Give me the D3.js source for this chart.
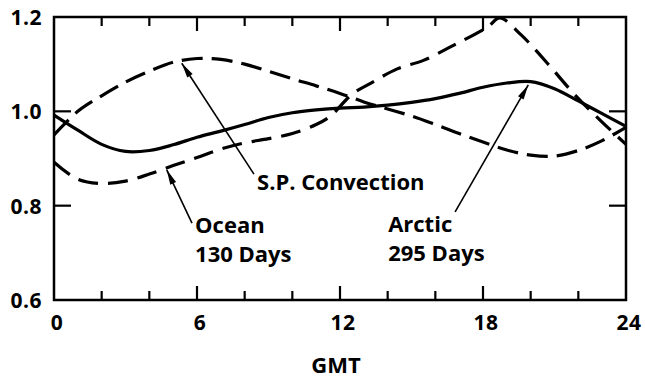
<html>
<head>
  <meta charset="utf-8" />
  <script src="https://cdnjs.cloudflare.com/ajax/libs/d3/7.8.5/d3.min.js"></script>
  <style>
    body { margin: 0; background: #fff; }
    text { font-family: "Open Sans", sans-serif; font-weight: 700; fill: #000; }
  </style>
</head>
<body>
  <svg></svg>
  <script>
    var hours       = [0,1,2,3,4,5,6,7,8,9,10,11,12,13,14,15,16,17,18,19,20,21,22,23,24]
    var arctic      = [0.992,0.96,0.93,0.915,0.917,0.929,0.945,0.958,0.972,0.987,0.997,1.003,1.007,1.009,1.013,1.019,1.027,1.038,1.051,1.06,1.063,1.048,1.022,0.995,0.968]
    var spConv      = [0.95,1.0,1.033,1.062,1.085,1.104,1.112,1.11,1.1,1.085,1.069,1.054,1.038,1.02,1.005,0.99,0.972,0.953,0.935,0.918,0.907,0.905,0.917,0.938,0.966]
    var oceanHours  = [0,1,2,3,4,5,6,7,8,9,10,11,11.6,12.5,13.3,14.4,15.5,16.8,18.2,18.7,19.6,20.7,21.8,22.9,24]
    var ocean       = [0.892,0.856,0.847,0.852,0.867,0.885,0.902,0.92,0.933,0.942,0.953,0.972,0.99,1.036,1.06,1.09,1.108,1.141,1.179,1.198,1.162,1.102,1.038,0.982,0.93]
    var xTicks      = [0,6,12,18,24]
    var xMinor      = [2,4,8,10,14,16,20,22]
    var yTicks      = [0.6,0.8,1.0,1.2]
    var yInner      = [0.8,1.0]

    var notes = [
      { lines: ["S.P. Convection"], tip: [5.36, 1.102], tail: [8.39, 0.867], at: [8.52, 0.833] },
      { lines: ["Ocean", "130 Days"], tip: [4.73, 0.876], tail: [5.79, 0.763], at: [5.92, 0.742] },
      { lines: ["Arctic", "295 Days"], tip: [19.9, 1.056], tail: [16.83, 0.787], at: [14.02, 0.744] }
    ]

    var svg = d3.select("svg").attr("width", 645).attr("height", 379)

    var x = d3.scaleLinear().domain([0, 24]).range([54, 626])
    var y = d3.scaleLinear().domain([0.6, 1.2]).range([300, 17])

    // frame
    svg.append("rect")
      .attr("x", x(0)).attr("y", y(1.2))
      .attr("width", x(24) - x(0)).attr("height", y(0.6) - y(1.2))
      .style("fill", "none").style("stroke", "#000").style("stroke-width", 2.5)

    // ticks, drawn inward on all sides
    var tickG = svg.append("g").style("stroke", "#000").style("stroke-width", 2.2)
    var xt = xMinor.map(d => ({ v: d, len: 9 })).concat([6, 12, 18].map(d => ({ v: d, len: 14 })))
    xt.forEach(t => {
      tickG.append("line").attr("x1", x(t.v)).attr("x2", x(t.v)).attr("y1", y(0.6)).attr("y2", y(0.6) - t.len)
      tickG.append("line").attr("x1", x(t.v)).attr("x2", x(t.v)).attr("y1", y(1.2)).attr("y2", y(1.2) + t.len)
    })
    yInner.forEach(v => {
      tickG.append("line").attr("x1", x(0)).attr("x2", x(0) + 17).attr("y1", y(v)).attr("y2", y(v))
      tickG.append("line").attr("x1", x(24)).attr("x2", x(24) - 17).attr("y1", y(v)).attr("y2", y(v))
    })

    // tick labels
    svg.selectAll("text.ylab").data(yTicks).enter().append("text")
      .attr("class", "ylab")
      .attr("x", 42).attr("y", d => y(d) + 8)
      .attr("text-anchor", "end")
      .style("font-size", "21px").style("letter-spacing", "0.5px")
      .text(d => d.toFixed(1))

    svg.selectAll("text.xlab").data(xTicks).enter().append("text")
      .attr("class", "xlab")
      .attr("x", d => x(d) + 3).attr("y", 330)
      .attr("text-anchor", "middle")
      .style("font-size", "21px").style("letter-spacing", "0.5px")
      .text(d => d)

    svg.append("text")
      .attr("x", 336).attr("y", 373)
      .attr("text-anchor", "middle")
      .style("font-size", "22px")
      .text("GMT")

    // curves
    var line = d3.line()
      .x(d => x(d[0]))
      .y(d => y(d[1]))
      .curve(d3.curveCatmullRom)

    var series = [
      { pts: d3.zip(hours, arctic), dash: null },
      { pts: d3.zip(hours, spConv), dash: "21,9" },
      { pts: d3.zip(oceanHours, ocean), dash: "20,10" }
    ]

    svg.selectAll("path.curve").data(series).enter().append("path")
      .attr("class", "curve")
      .attr("d", d => line(d.pts))
      .style("fill", "none")
      .style("stroke", "#000")
      .style("stroke-width", 3.2)
      .style("stroke-dasharray", d => d.dash)

    // annotations
    notes.forEach(n => {
      var tx = x(n.tip[0]), ty = y(n.tip[1])
      var sx = x(n.tail[0]), sy = y(n.tail[1])
      var ang = Math.atan2(ty - sy, tx - sx)
      svg.append("line")
        .attr("x1", sx).attr("y1", sy).attr("x2", tx).attr("y2", ty)
        .style("stroke", "#000").style("stroke-width", 1.6)
      var L = 15, W = 3.2
      var bx = tx - L * Math.cos(ang), by = ty - L * Math.sin(ang)
      var px = -Math.sin(ang) * W, py = Math.cos(ang) * W
      svg.append("path")
        .attr("d", `M${tx},${ty}L${bx + px},${by + py}L${bx - px},${by - py}Z`)
        .style("fill", "#000")
      n.lines.forEach((s, i) => {
        svg.append("text")
          .attr("x", x(n.at[0])).attr("y", y(n.at[1]) + i * 29)
          .style("font-size", "22px")
          .text(s)
      })
    })
  </script>
</body>
</html>
